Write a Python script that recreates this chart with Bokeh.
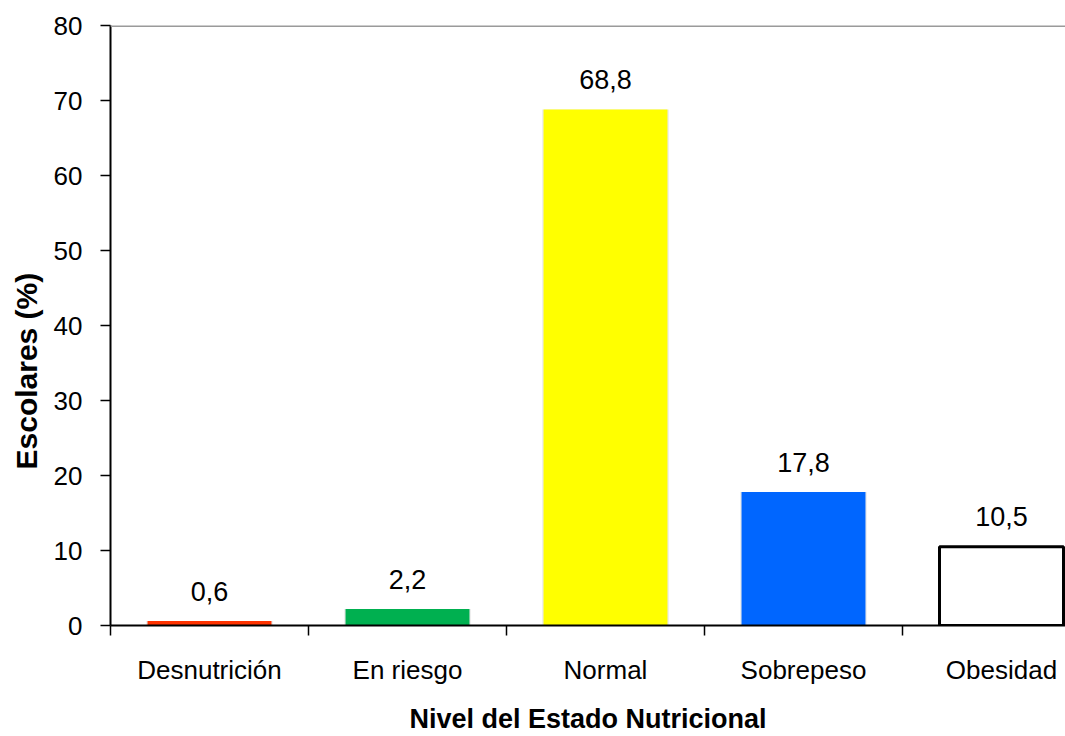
import math
from bokeh.plotting import figure
from bokeh.models import (ColumnDataSource, Range1d, FixedTicker, Span, Title)
from bokeh.core.properties import value
from bokeh.embed import file_html
from bokeh.resources import INLINE

# ---- data ----
categories = ["Desnutrición", "En riesgo", "Normal", "Sobrepeso", "Obesidad"]
percentages = [0.6, 2.2, 68.8, 17.8, 10.5]
value_labels = ["0,6", "2,2", "68,8", "17,8", "10,5"]
y_ticks = [0, 10, 20, 30, 40, 50, 60, 70, 80]

# ---- styles ----
fill_colors = ["#FF3300", "#00B050", "#FFFF00", "#0066FF", "#FFFFFF"]
line_colors = ["#FF3300", "#00B050", "#FFFF00", "#0066FF", "#000000"]
line_widths = [0, 0, 0, 0, 3]
FONT = "Liberation Sans"
FS = "26px"

centers = [i + 0.5 for i in range(len(categories))]
src = ColumnDataSource(dict(x=centers, top=percentages, lab=value_labels,
                            fill=fill_colors, line=line_colors, lw=line_widths))

W, H = 1065, 736
FRAME_LEFT, FRAME_BOTTOM = 110, 626
p = figure(width=W, height=H, output_backend="svg", toolbar_location=None,
           x_range=Range1d(0, (W - FRAME_LEFT) / 198.0), y_range=Range1d(0, 80),
           min_border_left=FRAME_LEFT, min_border_right=0, min_border_top=25,
           min_border_bottom=H - FRAME_BOTTOM, tools="")
p.outline_line_color = None
p.xgrid.visible = False
p.ygrid.visible = False
p.background_fill_color = "white"
p.border_fill_color = "white"

# soft shadow behind bars
p.vbar(x="x", top="top", width=0.64, bottom=-0.25, source=src,
       fill_color="#000000", fill_alpha=0.08, line_color=None)

p.vbar(x="x", top="top", width=0.626, source=src,
       fill_color="fill", line_color="line", line_width="lw")

p.text(x="x", y="top", text="lab", source=src, y_offset=-30,
       text_align="center", text_baseline="alphabetic",
       text_font=value(FONT), text_font_size="27px", text_color="black")

# top border line
p.add_layout(Span(location=80, dimension="width", line_color="#9A9A9A", line_width=3))

# y axis
ya = p.yaxis[0]
ya.ticker = FixedTicker(ticks=y_ticks, minor_ticks=[])
ya.axis_line_color = "black"
ya.axis_line_width = 2
ya.major_tick_out = 10
ya.major_tick_in = 0
ya.major_tick_line_width = 1.5
ya.minor_tick_line_color = None
ya.major_label_standoff = 18
ya.major_label_text_font = FONT
ya.major_label_text_font_size = FS
ya.major_label_text_color = "black"

# x axis
xa = p.xaxis[0]
xa.ticker = FixedTicker(ticks=centers, minor_ticks=list(range(len(categories) + 1)))
xa.major_label_overrides = {c: n for c, n in zip(centers, categories)}
xa.axis_line_color = "black"
xa.axis_line_width = 2
xa.major_tick_line_color = None
xa.minor_tick_out = 10
xa.minor_tick_in = 0
xa.minor_tick_line_color = "black"
xa.minor_tick_line_width = 1.5
xa.major_label_standoff = 19
xa.major_label_text_font = FONT
xa.major_label_text_font_size = FS
xa.major_label_text_color = "black"
xa.axis_label = "Nivel del Estado Nutricional"
xa.axis_label_standoff = 16
xa.axis_label_text_font = FONT
xa.axis_label_text_font_size = "27px"
xa.axis_label_text_font_style = "bold"
xa.axis_label_text_color = "black"

# y axis title (offset along the axis like the reference)
p.add_layout(Title(text="Escolares (%)", align="left", offset=156, standoff=15,
                   text_font=FONT, text_font_size="30px", text_font_style="bold",
                   text_color="black"), "left")

open("out.html", "w").write(file_html(p, INLINE))
